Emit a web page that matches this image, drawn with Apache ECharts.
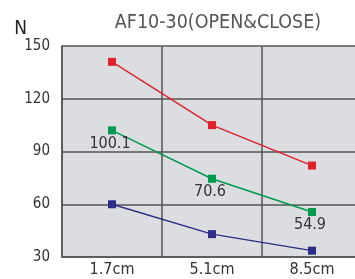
<!DOCTYPE html>
<html>
<head>
<meta charset="utf-8">
<script src="https://cdn.jsdelivr.net/npm/echarts@6/dist/echarts.min.js"></script>
<style>
  html, body { margin: 0; padding: 0; background: #fff; }
  #chart { width: 355px; height: 279px; }
</style>
</head>
<body>
<div id="chart"></div>
<script>
var categories = ["1.7cm", "5.1cm", "8.5cm"];
// plotted positions; printed labels differ a little
var redValues = [141, 105, 82];
var greenValues = [102, 74.5, 55.6];
var blueValues = [60, 43, 33.6];
var greenLabels = ["100.1", "70.6", "54.9"];

var fontName = "'Liberation Sans Narrow', 'DejaVu Sans Condensed', 'Roboto', sans-serif";

var myChart = echarts.init(document.getElementById("chart"));

function lineSeries(name, data, color, showLabel) {
  return {
    name: name,
    type: "line",
    data: data,
    symbol: "rect",
    symbolSize: 8,
    color: color,
    lineStyle: { width: 1.4, color: color },
    itemStyle: { color: color },
    label: {
      show: showLabel,
      position: "bottom",
      distance: 1,
      offset: [-2, 0],
      fontFamily: fontName,
      fontSize: 16,
      color: "#333",
      formatter: function (p) {
        return greenLabels[p.dataIndex];
      },
    },
    z: 3,
  };
}

var option = {
  animation: false,
  title: {
    text: "AF10-30(OPEN&CLOSE)",
    left: 213,
    textAlign: "center",
    top: 8,
    textStyle: {
      fontFamily: fontName,
      fontSize: 19.5,
      fontWeight: "normal",
      color: "#555",
    },
  },
  grid: {
    left: 62,
    width: 300,
    top: 46,
    bottom: 22,
    outerBoundsMode: "none",
  },
  xAxis: {
    type: "category",
    data: categories,
    boundaryGap: true,
    axisLine: { lineStyle: { color: "#555", width: 1.5 } },
    axisTick: { show: false },
    splitLine: { show: true, lineStyle: { color: "#555", width: 1.5 } },
    axisLabel: {
      fontFamily: fontName,
      fontSize: 16,
      color: "#333",
      margin: 5,
    },
  },
  yAxis: {
    type: "value",
    name: "N",
    nameLocation: "end",
    nameGap: 7,
    nameTextStyle: {
      fontFamily: fontName,
      fontSize: 19,
      color: "#222",
      align: "right",
      padding: [0, 35, 0, 0],
    },
    min: 30,
    max: 150,
    interval: 30,
    axisLine: { show: true, lineStyle: { color: "#555", width: 1.5 } },
    axisTick: { show: false },
    splitLine: { show: true, lineStyle: { color: "#555", width: 1.5 } },
    splitArea: { show: true, areaStyle: { color: ["#dcdde0", "#dcdde0"] } },
    axisLabel: {
      fontFamily: fontName,
      fontSize: 15,
      color: "#333",
      margin: 12,
    },
  },
  series: [
    lineSeries("red", redValues, "#e0202a", false),
    lineSeries("green", greenValues, "#00994f", true),
    lineSeries("blue", blueValues, "#2b2e86", false),
  ],
};

myChart.setOption(option);
</script>
</body>
</html>
